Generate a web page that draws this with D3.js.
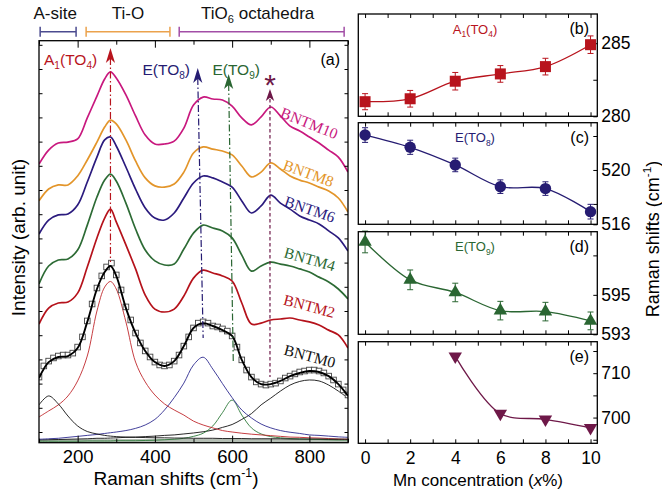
<!DOCTYPE html>
<html><head><meta charset="utf-8">
<script src="https://cdn.jsdelivr.net/npm/d3@7"></script>
<style>body{margin:0;background:#fff;} svg{display:block;font-family:"Liberation Sans",Arial,sans-serif;}</style>
</head><body><svg id="c" width="662" height="496"></svg>
<script>
// ---------------- DATA ----------------
// Panel (a): Raman spectra, arbitrary intensity units
const ramanShift = [100,125,150,175,200,225,250,270,285,300,325,350,375,400,425,450,475,500,525,550,575,600,625,650,675,700,725,750,775,800,825,850,875,900];
const bntm10 = [110.7,116.5,119.4,119.8,121.1,129.8,138.8,145.9,148.8,146.3,139.3,130.6,122.7,119.0,119.0,120.2,125.6,135.1,138.4,137.6,137.2,134.7,129.8,126.9,130.2,134.3,130.6,126.4,124.4,121.9,119.4,116.5,113.6,107.4];
const bntm8  = [95.5,100.4,102.1,102.1,105.8,112.4,119.8,126.0,128.9,127.3,120.7,112.0,105.0,101.7,101.2,102.5,107.4,115.3,117.8,116.9,116.1,114.5,109.9,105.4,107.4,111.2,108.7,105.8,104.1,102.9,101.2,99.6,96.7,90.9];
const bntm6  = [81.8,87.6,89.7,90.1,93.8,103.3,113.6,120.7,121.9,118.2,109.5,100.4,92.6,88.4,87.6,90.5,96.7,102.9,105.8,105.0,103.3,101.2,95.5,90.5,93.4,97.9,94.6,92.1,89.3,87.6,86.0,83.1,80.2,74.8];
const bntm4  = [61.2,68.6,71.1,71.5,75.2,85.5,97.1,104.1,106.6,103.7,94.6,83.9,75.2,70.7,69.0,69.4,75.6,82.2,85.5,84.3,83.1,80.2,73.1,66.5,68.6,70.2,69.4,68.6,67.4,66.1,64.0,62.0,59.1,55.0];
const bntm2  = [44.6,51.2,53.3,53.7,57.4,68.2,80.2,88.4,92.1,86.8,77.3,67.4,56.6,50.8,49.6,50.8,56.2,63.6,66.9,65.7,64.5,62.4,53.3,44.6,45.0,46.3,46.7,47.1,46.3,45.5,44.2,42.1,40.1,34.7];
const bntm0Fit = [22.3,28.9,31.0,31.4,34.7,45.5,59.1,66.1,68.6,64.5,51.2,40.9,33.5,28.9,27.3,29.3,35.5,43.0,45.0,43.8,42.1,39.7,29.8,22.7,19.8,19.8,21.1,23.1,24.4,25.2,24.8,23.1,19.8,14.9];
// BNTM0 measured points (open squares)
const obsShift = [100,112.5,125,137.5,150,162.5,175,187.5,200,212.5,225,237.5,250,262.5,275,287.5,300,312.5,325,337.5,350,362.5,375,387.5,400,412.5,425,437.5,450,462.5,475,487.5,500,512.5,525,537.5,550,562.5,575,587.5,600,612.5,625,637.5,650,662.5,675,687.5,700,712.5,725,737.5,750,762.5,775,787.5,800,812.5,825,837.5,850,862.5,875,887.5,900];
const bntm0Obs = [22.7,27.3,29.3,30.6,31.4,31.8,31.8,32.6,35.1,39.3,45.9,52.9,59.5,64.5,68.2,69.8,64.9,58.7,51.7,46.3,40.9,36.8,33.5,31.0,28.9,27.7,27.3,27.7,29.3,31.8,35.5,39.3,43.0,45.0,45.5,45.0,43.8,43.4,42.6,41.7,39.7,35.1,29.8,25.6,22.7,20.7,19.8,19.4,19.8,20.2,21.1,22.3,23.1,24.0,24.8,25.2,25.6,25.6,25.2,24.4,23.1,21.5,19.8,17.4,15.3];
// Fitted components of BNTM0
const compLow  = [11.2,14.9,11.6,6.6,2.5,0.2,-0.8,-1.4,-1.7,-1.9,-2.1,-2.2,-2.3,-2.4,-2.4,-2.5,-2.5,-2.6,-2.6,-2.6,-2.7,-2.7,-2.7,-2.8,-2.8,-2.8,-2.8,-2.9,-2.9,-2.9,-2.9,-3.0,-3.0,-3.0];
const compA1   = [6.2,8.7,11.2,14.9,21.1,31.4,50.0,59.9,62.2,59.1,45.5,28.9,20.7,15.3,11.6,9.1,7.0,4.5,2.9,1.7,0.6,0.0,-0.5,-0.9,-1.2,-1.5,-1.8,-2.1,-2.2,-2.4,-2.5,-2.7,-2.9,-3.0];
const compTO8  = [-3.0,-2.8,-2.6,-2.2,-1.8,-1.4,-1.0,-0.6,-0.3,0.0,0.6,1.5,2.9,5.2,9.1,14.2,20.2,27.7,30.9,26.0,20.0,14.2,9.1,5.8,3.3,1.7,0.6,-0.1,-0.6,-1.2,-1.4,-1.7,-2.0,-2.2];
const compTO9  = [-3.8,-3.8,-3.8,-3.8,-3.8,-3.7,-3.7,-3.7,-3.7,-3.6,-3.6,-3.6,-3.5,-3.4,-3.2,-3.0,-2.6,-1.8,-0.5,2.5,8.0,13.2,7.0,1.7,-0.8,-1.9,-2.4,-2.7,-2.9,-3.0,-3.1,-3.2,-3.3,-3.3];
const compHigh = [-3.3,-3.2,-3.1,-3.0,-2.9,-2.8,-2.6,-2.6,-2.5,-2.4,-2.2,-2.1,-1.9,-1.7,-1.4,-1.2,-0.8,-0.4,0.1,0.8,1.9,3.1,5.2,7.6,11.2,14.0,16.9,19.4,20.9,21.5,21.1,19.4,16.9,14.0];
const bgShift = [100,900];
const bgLevel = [-3.0,-2.7];
// Spectrum labels
const specNames = ["BNTM10","BNTM8","BNTM6","BNTM4","BNTM2","BNTM0"];
const labelShift = [800,798,801,801,800,801];
const labelInt = [127.7,107.0,92.1,71.5,52.1,31.4];
const labelAngle = [22,20,19,16,15,15];
// Mode markers
const modeWnTop = [285,511,591,698];
const modeWnBottom = [285,525,603,698];
const modeTipInt = [158.7,150.4,147.9,141.7];
const modeEndInt = [70.2,38.8,28.9,22.7];
// Region brackets (cm-1)
const regionNames = ["A-site","Ti-O","TiO6 octahedra"];
const regionStart = [103,222,463];
const regionEnd = [196,439,890];
// Panels (b)-(e)
const mnConc = [0,2,4,6,8,10];
const a1Shift = [281.0,281.2,282.4,282.9,283.4,284.9];
const a1Err = [0.55,0.57,0.6,0.57,0.57,0.6];
const to8Shift = [522.57,521.67,520.37,518.77,518.63,516.93];
const to8Err = [0.54,0.52,0.5,0.5,0.5,0.54];
const to9Shift = [597.68,595.76,595.12,594.2,594.15,593.68];
const to9Err = [0.55,0.5,0.47,0.47,0.47,0.45];
const starConc = [4,6,8,10];
const starShift = [713.8,700.9,699.6,697.7];

// ---------------- DRAW ----------------
const svg = d3.select("#c");
const C = {m10:"#c8187e", m8:"#e3952a", m6:"#2b1b7e", m4:"#2d6b35", m2:"#b5121b", m0:"#111",
  red:"#b8141d", navy:"#261c72", green:"#2a6632", maroon:"#6e1848"};

function rich(sel, parts, fs){
  let shift = 0;
  parts.forEach(([t,m])=>{
    const ts = sel.append("tspan").text(t);
    const target = m==="sub" ? 0.28*fs : m==="sup" ? -0.42*fs : 0;
    ts.attr("dy", target - shift);
    shift = target;
    if(m) ts.attr("font-size", fs*0.65);
  });
}

// ----- panel (a)
const ax = d3.scaleLinear().domain([100,900]).range([39,348]);
const ay = d3.scaleLinear().domain([-4.42,161.7]).range([442.7,40.7]);
const defs = svg.append("defs");
defs.append("clipPath").attr("id","clipA").append("rect")
  .attr("x",39).attr("y",40.7).attr("width",309).attr("height",402);
const gA = svg.append("g");
const gData = gA.append("g").attr("clip-path","url(#clipA)");

const lineA = arr => d3.line().x((d,i)=>ax(ramanShift[i])).y(d=>ay(d)).curve(d3.curveCatmullRom.alpha(0.5))(arr);

// background band
gData.append("path")
  .attr("d", d3.area().x((d,i)=>ax(bgShift[i])).y0(ay(-4.42)).y1(d=>ay(d))(bgLevel))
  .attr("fill","#b4beb4");

// components
[[compHigh,"#111"],[compTO9,"#2e7a3a"],[compTO8,"#2e2a8e"],[compA1,"#c0282c"],[compLow,"#111"]].forEach(([arr,col])=>{
  gData.append("path").attr("d", lineA(arr)).attr("fill","none").attr("stroke",col).attr("stroke-width",0.9);
});

// spectra
const spectra = [bntm10,bntm8,bntm6,bntm4,bntm2];
const specColors = [C.m10,C.m8,C.m6,C.m4,C.m2];
spectra.forEach((arr,k)=>{
  gData.append("path").attr("d", lineA(arr)).attr("fill","none")
    .attr("stroke",specColors[k]).attr("stroke-width",1.7).attr("stroke-linejoin","round");
});

// BNTM0 squares
gData.selectAll("rect.obs").data(bntm0Obs).enter().append("rect").attr("class","obs")
  .attr("x",(d,i)=>ax(obsShift[i])-2.8).attr("y",d=>ay(d)-2.8)
  .attr("width",5.6).attr("height",5.6)
  .attr("fill","white").attr("stroke","#444").attr("stroke-width",0.9);
gData.append("path").attr("d", lineA(bntm0Fit)).attr("fill","none").attr("stroke","#000").attr("stroke-width",1.9);

// mode markers
const modeColors = [C.red, C.navy, C.green, C.maroon];
const modeDash = ["7,2.5,1.5,2.5","7,2.5,1.5,2.5","7,2.5,1.5,2.5","3.5,2.5"];
modeWnTop.forEach((w,k)=>{
  gA.append("line")
    .attr("x1",ax(w)).attr("y1",ay(modeTipInt[k])+10)
    .attr("x2",ax(modeWnBottom[k])).attr("y2",ay(modeEndInt[k]))
    .attr("stroke",modeColors[k]).attr("stroke-width",1.2).attr("stroke-dasharray",modeDash[k]);
  const h = k===3 ? 12 : 15, wd = k===3 ? 4.2 : 4.6;
  gA.append("path")
    .attr("d",`M0,0 L${wd},${h} L0,${h*0.72} L${-wd},${h} Z`)
    .attr("transform",`translate(${ax(w)},${ay(modeTipInt[k])})`)
    .attr("fill",modeColors[k]);
});
// asterisk
gA.append("text").attr("x",ax(modeWnTop[3])).attr("y",ay(modeTipInt[3])+6)
  .attr("text-anchor","middle").attr("font-size",30).attr("fill",C.maroon).text("*");

// mode labels
const t1 = gA.append("text").attr("x",ax(113)).attr("y",ay(151.7)).attr("font-size",15.5).attr("fill",C.red);
rich(t1,[["A",null],["1","sub"],["(TO",null],["4","sub"],[")",null]],15.5);
const t2 = gA.append("text").attr("x",ax(368)).attr("y",ay(147.5)).attr("font-size",15.5).attr("fill",C.navy);
rich(t2,[["E(TO",null],["8","sub"],[")",null]],15.5);
const t3 = gA.append("text").attr("x",ax(549)).attr("y",ay(147.5)).attr("font-size",15.5).attr("fill",C.green);
rich(t3,[["E(TO",null],["9","sub"],[")",null]],15.5);
gA.append("text").attr("x",340).attr("y",65).attr("text-anchor","end").attr("font-size",16).text("(a)");

// spectrum labels
const labColors = [C.m10,C.m8,C.m6,C.m4,C.m2,"#111"];
specNames.forEach((n,k)=>{
  gA.append("text")
    .attr("transform",`translate(${ax(labelShift[k])},${ay(labelInt[k])}) rotate(${labelAngle[k]})`)
    .attr("text-anchor","middle").attr("dominant-baseline","central")
    .attr("font-family","'Liberation Serif','Times New Roman',serif").attr("font-size",15.5)
    .attr("fill",labColors[k]).text(n);
});

// frame & axes of (a)
gA.append("rect").attr("x",39).attr("y",40.7).attr("width",309).attr("height",402)
  .attr("fill","none").attr("stroke","#000").attr("stroke-width",1.3);
function styleAxis(g, fs){
  g.select(".domain").remove();
  g.selectAll(".tick line").attr("stroke","#000").attr("stroke-width",1);
  g.attr("font-family","'Liberation Sans',Arial,sans-serif").attr("font-size",fs);
  g.selectAll("text").attr("fill","#000");
}
const xMaj=[200,400,600,800], xMin=[100,300,500,700,900];
styleAxis(gA.append("g").attr("transform","translate(0,442.7)")
  .call(d3.axisBottom(ax).tickValues(xMaj).tickSize(-7).tickPadding(7)), 18.5);
styleAxis(gA.append("g").attr("transform","translate(0,442.7)")
  .call(d3.axisBottom(ax).tickValues(xMin).tickSize(-4).tickFormat("")), 18.5);
styleAxis(gA.append("g").attr("transform","translate(0,40.7)")
  .call(d3.axisTop(ax).tickValues(xMaj).tickSize(-7).tickFormat("")), 18.5);
styleAxis(gA.append("g").attr("transform","translate(0,40.7)")
  .call(d3.axisTop(ax).tickValues(xMin).tickSize(-4).tickFormat("")), 18.5);
const yT = d3.range(0,161,10);
styleAxis(gA.append("g").attr("transform","translate(39,0)")
  .call(d3.axisLeft(ay).tickValues(yT).tickSize(-3.5).tickFormat("")), 18);
styleAxis(gA.append("g").attr("transform","translate(348,0)")
  .call(d3.axisRight(ay).tickValues(yT).tickSize(-3.5).tickFormat("")), 18);

const xt = svg.append("text").attr("x",176).attr("y",485).attr("text-anchor","middle").attr("font-size",19);
rich(xt,[["Raman shifts (cm",null],["-1","sup"],[")",null]],19);
svg.append("text").attr("transform","translate(25,237.5) rotate(-90)")
  .attr("text-anchor","middle").attr("font-size",19).text("Intensity (arb. unit)");

// region brackets
const regColors = ["#4b4b8f","#eba24c","#a24ea6"];
regionNames.forEach((n,k)=>{
  const x1 = ax(regionStart[k]), x2 = ax(regionEnd[k]), y = 31.7;
  const g = svg.append("g").attr("stroke",regColors[k]).attr("stroke-width",1.5);
  g.append("line").attr("x1",x1).attr("x2",x2).attr("y1",y).attr("y2",y);
  g.append("line").attr("x1",x1).attr("x2",x1).attr("y1",y-5).attr("y2",y+5);
  g.append("line").attr("x1",x2).attr("x2",x2).attr("y1",y-5).attr("y2",y+5);
  const t = svg.append("text").attr("x",(x1+x2)/2 - (k===0?3:k===2?4:0)).attr("y",18.5)
    .attr("text-anchor","middle").attr("font-size",17).attr("fill","#111");
  if(k===2) rich(t,[["TiO",null],["6","sub"],[" octahedra",null]],17);
  else t.text(n);
});

// ----- panels (b)-(e)
const rx = d3.scaleLinear().domain([-0.3,10.3]).range([358.3,597.3]);
const panels = [
  {top:14, bottom:116.3, dom:[280,287], ticks:[280,282.5,285], labs:[280,285], x:mnConc, y:a1Shift, e:a1Err, col:C.red, sym:"square", name:[["A",null],["1","sub"],["(TO",null],["4","sub"],[")",null]], tag:"(b)"},
  {top:122.7, bottom:224.3, dom:[516,523.48], ticks:[516,517.5,520,522.5], labs:[516,520], x:mnConc, y:to8Shift, e:to8Err, col:C.navy, sym:"circle", name:[["E(TO",null],["8","sub"],[")",null]], tag:"(c)"},
  {top:231.7, bottom:334.3, dom:[593,598.2], ticks:[593,595,597], labs:[593,595], x:mnConc, y:to9Shift, e:to9Err, col:C.green, sym:"tri", name:[["E(TO",null],["9","sub"],[")",null]], tag:"(d)"},
  {top:341.7, bottom:443.3, dom:[694.2,717.1], ticks:[695,700,705,710,715], labs:[700,710], x:starConc, y:starShift, e:null, col:C.maroon, sym:"tridown", name:null, tag:"(e)"}
];
panels.forEach((p,pi)=>{
  const ys = d3.scaleLinear().domain(p.dom).range([p.bottom,p.top]);
  const g = svg.append("g");
  const xv = [0,1,2,3,4,5,6,7,8,9,10];
  styleAxis(g.append("g").attr("transform",`translate(0,${p.bottom})`)
    .call(d3.axisBottom(rx).tickValues(xv).tickSize(-4).tickPadding(8)
      .tickFormat(d => (pi===3 && d%2===0) ? d : "")), 17.5);
  styleAxis(g.append("g").attr("transform",`translate(0,${p.top})`)
    .call(d3.axisTop(rx).tickValues(xv).tickSize(-4).tickFormat("")), 17.5);
  styleAxis(g.append("g").attr("transform","translate(597.3,0)")
    .call(d3.axisRight(ys).tickValues(p.ticks).tickSize(-4).tickPadding(4)
      .tickFormat(d => p.labs.includes(d) ? d : "")), 17.5);
  // fit curve
  g.append("path")
    .attr("d", d3.line().x((d,i)=>rx(p.x[i])).y(d=>ys(d)).curve(d3.curveCatmullRom.alpha(0.5))(p.y))
    .attr("fill","none").attr("stroke",p.col).attr("stroke-width",1.3);
  // error bars
  if(p.e){
    p.y.forEach((v,i)=>{
      const cx = rx(p.x[i]), y1 = ys(v - p.e[i]), y2 = ys(v + p.e[i]);
      g.append("line").attr("x1",cx).attr("x2",cx).attr("y1",y1).attr("y2",y2).attr("stroke",p.col).attr("stroke-width",1);
      [y1,y2].forEach(yy=>g.append("line").attr("x1",cx-3).attr("x2",cx+3).attr("y1",yy).attr("y2",yy).attr("stroke",p.col).attr("stroke-width",1));
    });
  }
  // markers
  p.y.forEach((v,i)=>{
    const cx = rx(p.x[i]), cy = ys(v);
    if(p.sym==="square"){
      g.append("rect").attr("x",cx-5.5).attr("y",cy-5.5).attr("width",11).attr("height",11).attr("fill",p.col);
    } else if(p.sym==="circle"){
      g.append("circle").attr("cx",cx).attr("cy",cy).attr("r",5.7).attr("fill",p.col);
    } else {
      g.append("path").attr("d", d3.symbol().type(d3.symbolTriangle).size(78)())
        .attr("transform",`translate(${cx},${cy}) rotate(${p.sym==="tridown"?180:0})`).attr("fill",p.col);
    }
  });
  g.append("rect").attr("x",358.3).attr("y",p.top).attr("width",239).attr("height",p.bottom-p.top)
    .attr("fill","none").attr("stroke","#000").attr("stroke-width",1.3);
  if(p.name){
    const t = g.append("text").attr("x",475).attr("y",p.top+19.5).attr("text-anchor","middle").attr("font-size",13).attr("fill",p.col);
    rich(t,p.name,13);
  }
  g.append("text").attr("x",589).attr("y",p.top+20).attr("text-anchor","end").attr("font-size",16).text(p.tag);
});
const mt = svg.append("text").attr("x",478).attr("y",486).attr("text-anchor","middle").attr("font-size",17);
mt.append("tspan").text("Mn concentration (");
mt.append("tspan").attr("font-style","italic").text("x");
mt.append("tspan").text("%)");
const rt = svg.append("text").attr("transform","translate(659,239) rotate(-90)").attr("text-anchor","middle").attr("font-size",18);
rich(rt,[["Raman shifts (cm",null],["-1","sup"],[")",null]],18);
</script></body></html>
